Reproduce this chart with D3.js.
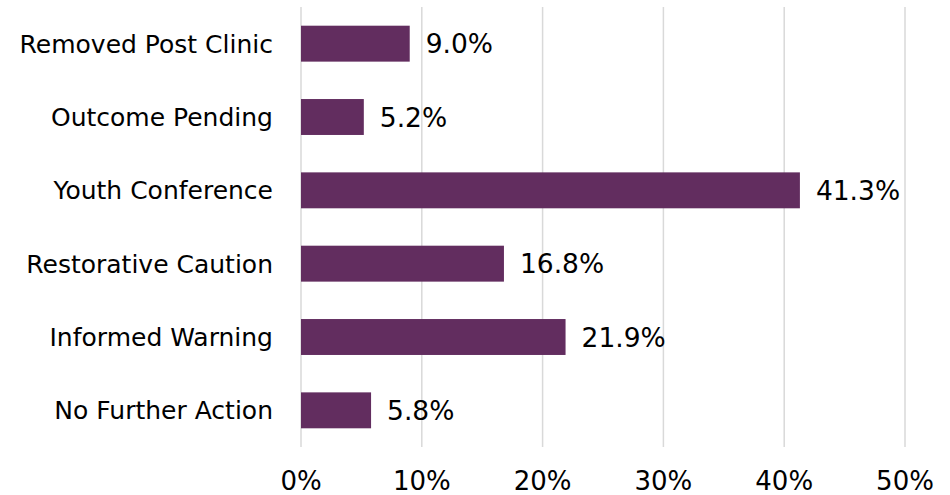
<!DOCTYPE html>
<html lang="en">
  <head>
    <meta charset="utf-8">
    <title>Outcomes</title>
    <script src="https://cdnjs.cloudflare.com/ajax/libs/d3/7.8.5/d3.min.js"></script>
    <style>
      body { margin: 0; background: #fff; }
      text { font-family: "DejaVu Sans", sans-serif; fill: #000; }
    </style>
  </head>
  <body>
    <svg id="chart" width="950" height="495"></svg>
    <script>
      var categories = ["Removed Post Clinic", "Outcome Pending", "Youth Conference",
                        "Restorative Caution", "Informed Warning", "No Further Action"];
      var values = [9.0, 5.2, 41.3, 16.8, 21.9, 5.8];
      var ticks = [0, 10, 20, 30, 40, 50];

      var svg = d3.select("#chart");

      var x = d3.scaleLinear().domain([0, 50]).range([301, 905]);
      var y = d3.scaleBand().domain(categories).range([7, 447]).paddingInner(0.51).paddingOuter(0.255);

      // gridlines
      svg.append("g").selectAll("line")
        .data(ticks).enter().append("line")
        .attr("x1", function(d) { return x(d); })
        .attr("x2", function(d) { return x(d); })
        .attr("y1", 7).attr("y2", 447)
        .attr("stroke", "#d9d9d9").attr("stroke-width", 1.5);

      // bars
      svg.append("g").selectAll("rect")
        .data(values).enter().append("rect")
        .attr("x", x(0))
        .attr("y", function(d, i) { return y(categories[i]); })
        .attr("width", function(d) { return x(d) - x(0); })
        .attr("height", y.bandwidth())
        .attr("fill", "#622d5f");

      // value labels
      svg.append("g").selectAll("text")
        .data(values).enter().append("text")
        .attr("x", function(d) { return x(d) + 16; })
        .attr("y", function(d, i) { return y(categories[i]) + y.bandwidth() / 2; })
        .attr("dy", "0.36em")
        .style("font-size", "26.5px")
        .text(function(d) { return d.toFixed(1) + "%"; });

      // category labels
      svg.append("g").selectAll("text")
        .data(categories).enter().append("text")
        .attr("x", 273)
        .attr("y", function(d) { return y(d) + y.bandwidth() / 2; })
        .attr("dy", "0.36em")
        .attr("text-anchor", "end")
        .style("font-size", "25px")
        .text(function(d) { return d; });

      // x tick labels
      svg.append("g").selectAll("text")
        .data(ticks).enter().append("text")
        .attr("x", function(d) { return x(d); })
        .attr("y", 490)
        .attr("text-anchor", "middle")
        .style("font-size", "26px")
        .text(function(d) { return d + "%"; });
    </script>
  </body>
</html>
